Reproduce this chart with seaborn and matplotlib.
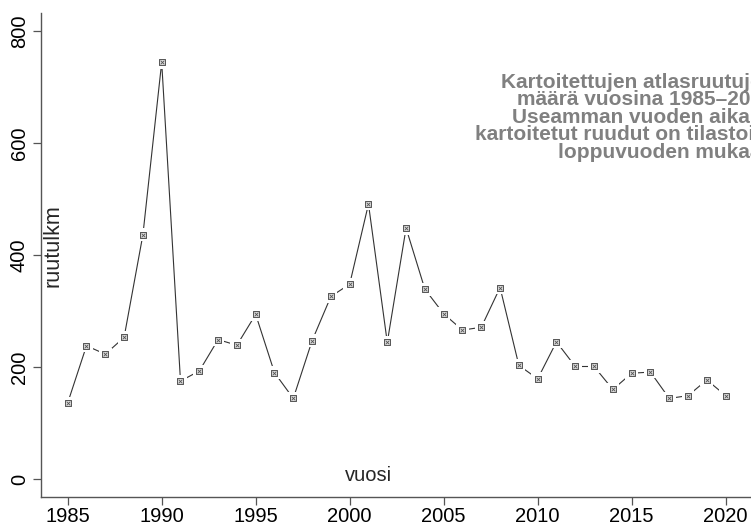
import matplotlib
matplotlib.use("Agg")
import matplotlib.pyplot as plt
import seaborn as sns
import pandas as pd

# =======================
# DATA
# =======================
YEARS = list(range(1985, 2021))
SQUARES = [
    136, 238, 223, 253, 436, 744, 175, 193, 249, 239,
    294, 190, 144, 247, 326, 348, 491, 244, 448, 339,
    295, 266, 271, 342, 203, 179, 245, 201, 201, 160,
    189, 191, 144, 149, 177, 149,
]
X_TICKS = [1985, 1990, 1995, 2000, 2005, 2010, 2015, 2020]
Y_TICKS = [0, 200, 400, 600, 800]
X_LABEL = "vuosi"
Y_LABEL = "ruutulkm"
NOTE = ("Kartoitettujen atlasruutujen\n"
        "määrä vuosina 1985–2020\n"
        "Useamman vuoden aikana\n"
        "kartoitetut ruudut on tilastoitu\n"
        "loppuvuoden mukaan")


def main():
    df = pd.DataFrame({"vuosi": YEARS, "ruutulkm": SQUARES})

    sns.set_style("ticks")
    plt.rcParams["font.family"] = ["Liberation Sans", "DejaVu Sans"]

    fig = plt.figure(figsize=(7.51, 5.25), dpi=100)
    ax = fig.add_axes([0.0551, 0.0533, 0.9462, 0.9219])

    # line, then white squares to leave a gap, then the small boxed markers
    sns.lineplot(data=df, x="vuosi", y="ruutulkm", color="#333333",
                 linewidth=0.8, ax=ax, zorder=2)
    sns.scatterplot(data=df, x="vuosi", y="ruutulkm", marker="s", s=85,
                    color="white", edgecolor="none", ax=ax, zorder=3)
    sns.scatterplot(data=df, x="vuosi", y="ruutulkm", marker="s", s=22,
                    color="#dcdcdc", edgecolor="#555555", linewidth=0.7,
                    ax=ax, zorder=4)
    sns.scatterplot(data=df, x="vuosi", y="ruutulkm", marker="x", s=7,
                    color="#555555", linewidth=0.6, ax=ax, zorder=5)

    ax.set_xlim(1983.6, 2021.4)
    ax.set_ylim(-32, 832)
    ax.set_xticks(X_TICKS)
    ax.set_yticks(Y_TICKS)
    ax.set_xlabel("")
    ax.set_ylabel("")

    sns.despine(ax=ax)
    for side in ["left", "bottom"]:
        ax.spines[side].set_color("#555555")
        ax.spines[side].set_linewidth(1.0)
    ax.tick_params(axis="both", length=6, width=0.9, color="#555555",
                   labelsize=14.5, labelcolor="black")
    ax.tick_params(axis="x", pad=1)
    ax.tick_params(axis="y", pad=3)
    plt.setp(ax.get_yticklabels(), rotation=90, va="center")

    ax.text(0.46, 0.045, X_LABEL, transform=ax.transAxes, fontsize=14.5,
            ha="center", va="center")
    ax.text(0.017, 0.52, Y_LABEL, transform=ax.transAxes, fontsize=15.5,
            rotation=90, ha="center", va="center")
    ax.text(1.031, 0.785, NOTE, transform=ax.transAxes, fontsize=15,
            fontweight="bold", color="#808080", ha="right", va="center",
            multialignment="right", linespacing=0.9, clip_on=False)

    fig.savefig("out.png", dpi=100)
    plt.close(fig)


if __name__ == "__main__":
    main()
